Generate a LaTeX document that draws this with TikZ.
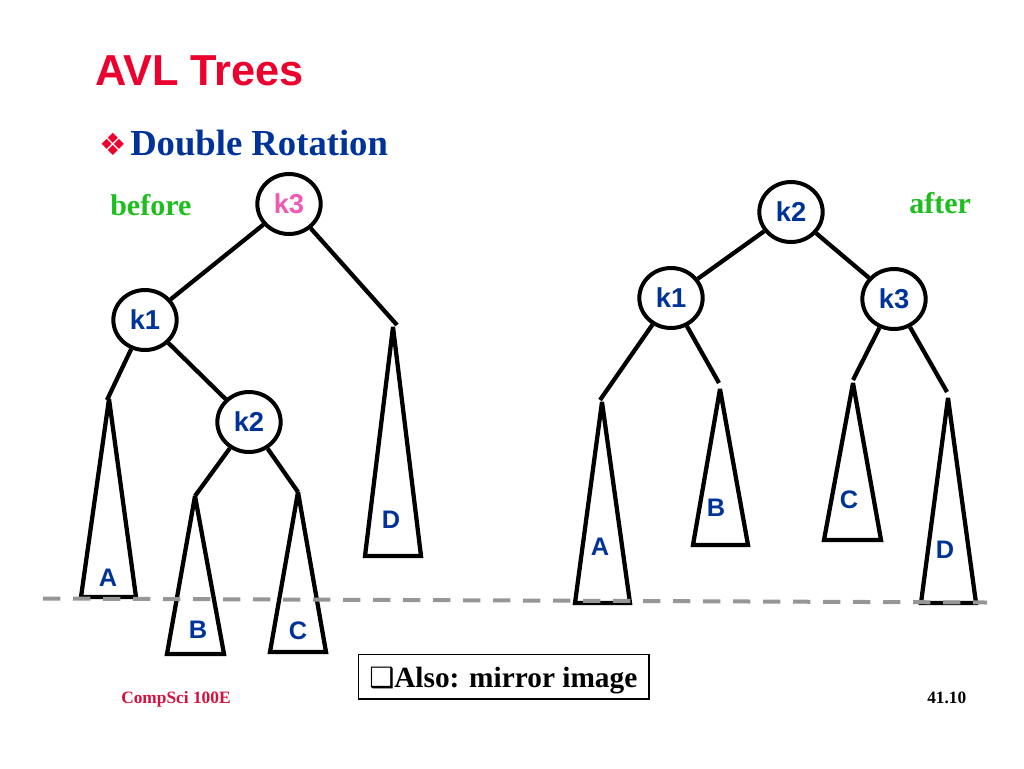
\documentclass[tikz,border=0pt]{standalone}
\usepackage{fontspec}
\setmainfont{Liberation Serif}
\newfontfamily\arialf{Liberation Sans}
\newfontfamily\dejavuf{DejaVu Sans}
\usetikzlibrary{shapes.geometric}
\definecolor{titlered}{RGB}{236,0,45}
\definecolor{footred}{RGB}{215,15,60}
\definecolor{keyblue}{RGB}{0,51,153}
\definecolor{labgreen}{RGB}{30,190,30}
\definecolor{keypink}{RGB}{240,90,180}
\definecolor{dashgray}{RGB}{150,150,150}
\tikzset{
  keynode/.style={draw=black, line width=3pt, ellipse, fill=white, minimum width=47.5pt, minimum height=45pt, inner sep=0pt, text=keyblue, font=\arialf\bfseries\fontsize{20.5}{24}\selectfont},
  edge/.style={line width=3.2pt, line cap=butt},
  subtree/.style={line width=3.2pt, line join=miter, miter limit=2.2},
  treelabel/.style={text=keyblue, font=\arialf\bfseries\fontsize{19}{22}\selectfont, inner sep=0pt},
  sidelabel/.style={text=labgreen, font=\bfseries\fontsize{22.5}{26}\selectfont, inner sep=0pt, anchor=base west},
  baseline/.style={dashgray, line width=3pt, dash pattern=on 13pt off 9.5pt}
}
\begin{document}
\begin{tikzpicture}[x=0.75pt,y=-0.75pt]
\useasboundingbox (0,0) rectangle (1024,768);
% title
\node[anchor=base west, inner sep=0pt, text=titlered, font=\arialf\bfseries\fontsize{32.5}{36}\selectfont] (title) at (95,85) {AVL Trees};
\node[anchor=base west, inner sep=0pt, text=titlered, font=\dejavuf\fontsize{23}{26}\selectfont] (bullet) at (99,155) {❖};
\node[anchor=base west, inner sep=0pt, text=keyblue, font=\bfseries\fontsize{27.5}{32}\selectfont] (sub) at (130,155) {Double Rotation};
\node[sidelabel] (before) at (110,215) {before};
\node[sidelabel] (after) at (909,213) {after};

% ---------- left tree (before) ----------
\coordinate (LAt) at (109,399); \coordinate (LAl) at (81,597); \coordinate (LAr) at (136,597);
\coordinate (LBt) at (195,496); \coordinate (LBl) at (167,654); \coordinate (LBr) at (224,654);
\coordinate (LCt) at (298,492); \coordinate (LCl) at (270,652); \coordinate (LCr) at (326,652);
\coordinate (LDt) at (393,327); \coordinate (LDl) at (365,556); \coordinate (LDr) at (421,556);
\coordinate (LDe) at (397,325);
\coordinate (LAe) at (107,400);

\draw[subtree] (LAt) -- (LAl) -- (LAr) -- cycle;
\draw[subtree] (LBt) -- (LBl) -- (LBr) -- cycle;
\draw[subtree] (LCt) -- (LCl) -- (LCr) -- cycle;
\draw[subtree] (LDt) -- (LDl) -- (LDr) -- cycle;

\node[keynode, text=keypink] (lk3) at (289,204) {k3};
\node[keynode] (lk1) at (145,320) {k1};
\node[keynode] (lk2) at (249,422) {k2};

\draw[edge] (lk3) -- (lk1);
\draw[edge] (lk3) -- (LDe);
\draw[edge] (lk1) -- (LAe);
\draw[edge] (lk1) -- (lk2);
\draw[edge] (lk2) -- (LBt);
\draw[edge] (lk2) -- (LCt);

\node[treelabel] (lA) at (108,578) {A};
\node[treelabel] (lB) at (198,630) {B};
\node[treelabel] (lC) at (298,631) {C};
\node[treelabel] (lD) at (391,520) {D};

% ---------- right tree (after) ----------
\coordinate (RAt) at (602,402); \coordinate (RAl) at (575,603); \coordinate (RAr) at (630,603);
\coordinate (RBt) at (720,389); \coordinate (RBl) at (693,545); \coordinate (RBr) at (748,545);
\coordinate (RCt) at (853,383); \coordinate (RCl) at (824,540); \coordinate (RCr) at (881,540);
\coordinate (RDt) at (948,398); \coordinate (RDl) at (921,603); \coordinate (RDr) at (976,603);
\coordinate (RAe) at (600,400);
\coordinate (RBe) at (719,383);
\coordinate (RCe) at (853,380);
\coordinate (RDe) at (947,392);

\draw[subtree] (RAt) -- (RAl) -- (RAr) -- cycle;
\draw[subtree] (RBt) -- (RBl) -- (RBr) -- cycle;
\draw[subtree] (RCt) -- (RCl) -- (RCr) -- cycle;
\draw[subtree] (RDt) -- (RDl) -- (RDr) -- cycle;

\node[keynode] (rk2) at (791,212) {k2};
\node[keynode] (rk1) at (671,298) {k1};
\node[keynode] (rk3) at (894,299) {k3};

\draw[edge] (rk2) -- (rk1);
\draw[edge] (rk2) -- (rk3);
\draw[edge] (rk1) -- (RAe);
\draw[edge] (rk1) -- (RBe);
\draw[edge] (rk3) -- (RCe);
\draw[edge] (rk3) -- (RDe);

\node[treelabel] (rA) at (600,547) {A};
\node[treelabel] (rB) at (716,508) {B};
\node[treelabel] (rC) at (849,500) {C};
\node[treelabel] (rD) at (945,550) {D};

% dashed height line
\coordinate (hl) at (43,598.5);
\coordinate (hr) at (987,602.5);
\draw[baseline] (hl) -- (hr);

% note box
\node[draw=black, line width=1pt, minimum width=218pt, minimum height=33.5pt, inner sep=0pt] (note) at (503.5,676.5) {};
\node[anchor=base west, inner sep=0pt, font=\dejavuf\bfseries\fontsize{21}{24}\selectfont] (box) at (369,687) {❑};
\node[anchor=base west, inner sep=0pt, font=\bfseries\fontsize{22}{26}\selectfont] (also) at (394,687) {Also: mirror image};

% footer
\node[anchor=base west, inner sep=0pt, text=footred, font=\bfseries\fontsize{13}{15}\selectfont] (foot) at (121,703) {CompSci 100E};
\node[anchor=base west, inner sep=0pt, font=\bfseries\fontsize{13}{15}\selectfont] (page) at (927,703) {41.10};
\end{tikzpicture}
\end{document}
